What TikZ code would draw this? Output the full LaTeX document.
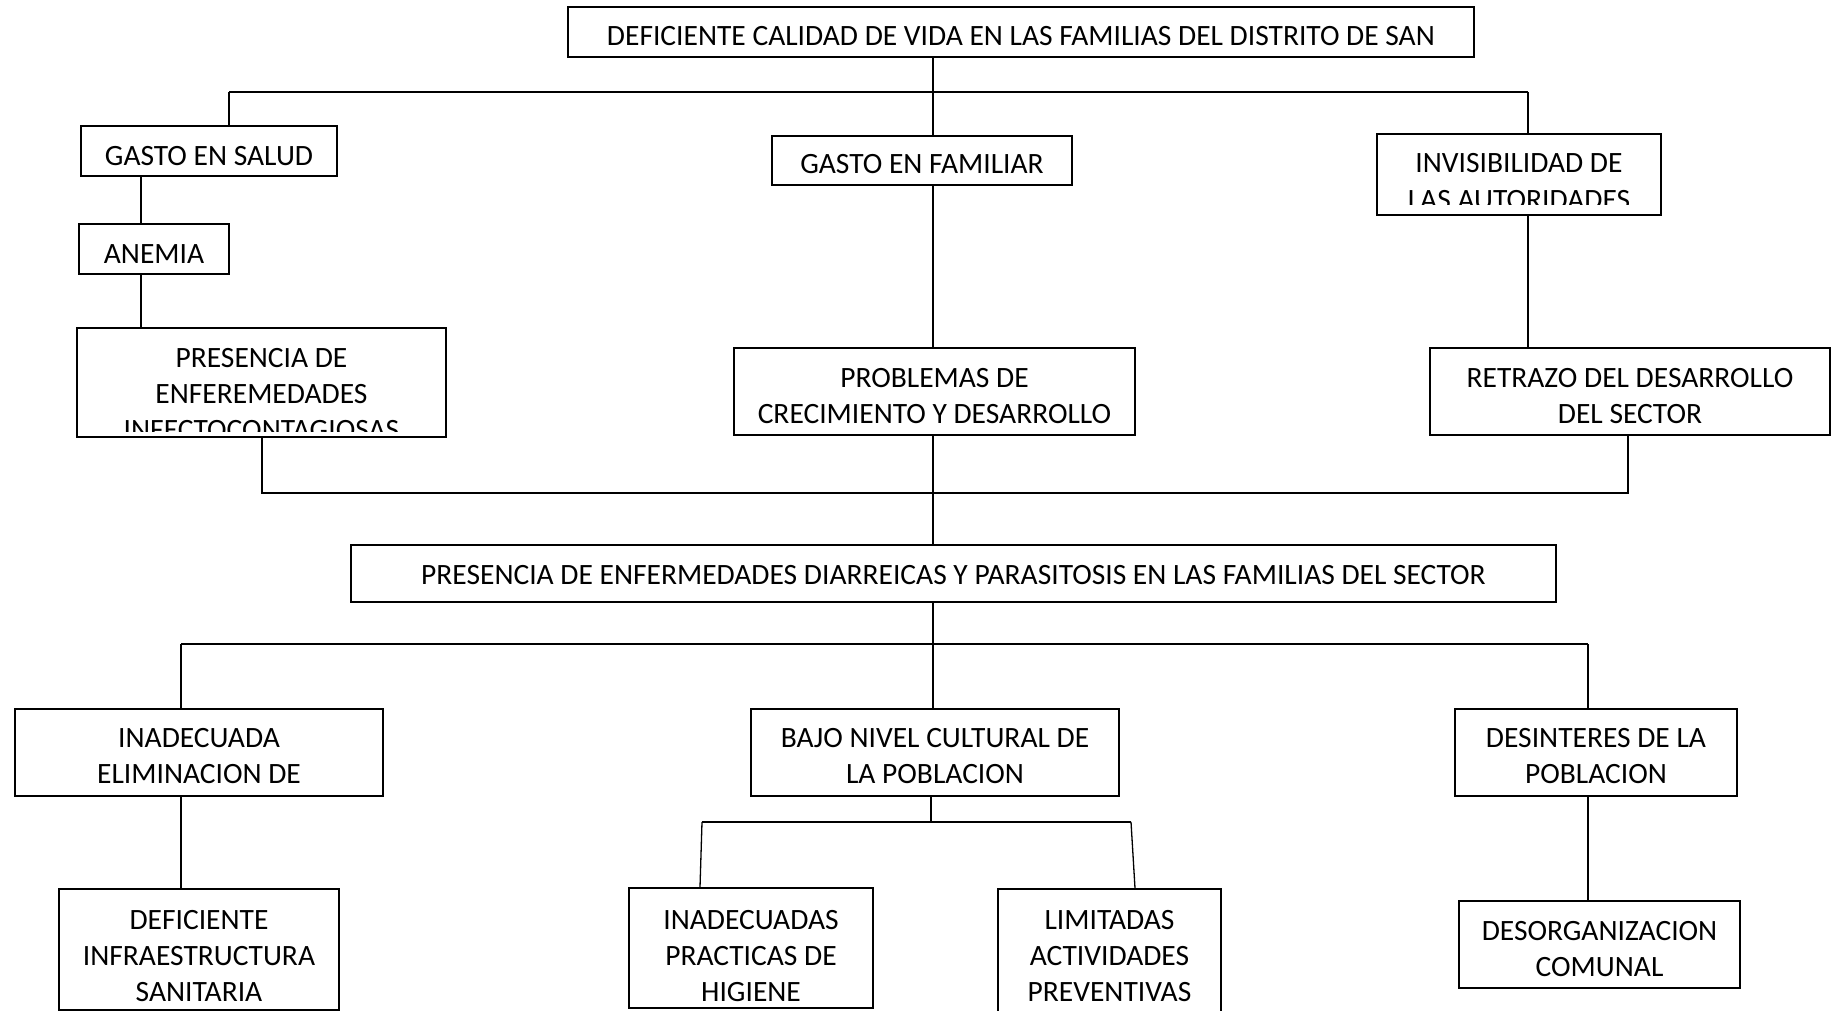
\documentclass[tikz,border=0pt]{standalone}
\usepackage{fontspec}
\setmainfont{Carlito}
\begin{document}
\begin{tikzpicture}[x=1pt,y=-1pt,
  box/.style={draw,line width=1.5pt,inner sep=0pt,rectangle},
  txt/.style={inner sep=0pt,align=center,anchor=base,font=\fontsize{29.5}{36}\selectfont},
  conn/.style={line width=1.3pt}]
\useasboundingbox (0,0) rectangle (1835,1011);
% boxes
\node[box,minimum width=906,minimum height=50] (top) at (1021,32) {};
\node[box,minimum width=256,minimum height=50] (salud) at (209,151) {};
\node[box,minimum width=150,minimum height=50] (anemia) at (154,249) {};
\node[box,minimum width=369,minimum height=109] (pres) at (261.5,382.5) {};
\node[box,minimum width=300,minimum height=49] (fam) at (922,160.5) {};
\node[box,minimum width=284,minimum height=81] (invis) at (1519,174.5) {};
\node[box,minimum width=401,minimum height=87] (prob) at (934.5,391.5) {};
\node[box,minimum width=400,minimum height=87] (retr) at (1630,391.5) {};
\node[box,minimum width=1205,minimum height=57] (diar) at (953.5,573.5) {};
\node[box,minimum width=368,minimum height=87] (inad) at (199,752.5) {};
\node[box,minimum width=368,minimum height=87] (bajo) at (935,752.5) {};
\node[box,minimum width=282,minimum height=87] (desi) at (1596,752.5) {};
\node[box,minimum width=280,minimum height=121] (defi) at (199,949.5) {};
\node[box,minimum width=244,minimum height=120] (inpr) at (751,948) {};
\node[box,minimum width=223,minimum height=131] (limi) at (1109.5,954.5) {};
\node[box,minimum width=281,minimum height=87] (deso) at (1599.5,944.5) {};
% texts (anchor base = baseline of the last line)
\node[txt] (top-t) at (1021,46) {DEFICIENTE CALIDAD DE VIDA EN LAS FAMILIAS DEL DISTRITO DE SAN};
\node[txt] (salud-t) at (209,166) {GASTO EN SALUD};
\node[txt] (anemia-t) at (154,263) {ANEMIA};
\begin{scope}
\clip (77,328) rectangle (446,431);
\node[txt] (pres-t) at (261.5,439) {PRESENCIA DE\\ENFEREMEDADES\\INFECTOCONTAGIOSAS};
\end{scope}
\node[txt] (fam-t) at (922,174) {GASTO EN FAMILIAR};
\begin{scope}
\clip (1377,134) rectangle (1661,204);
\node[txt] (invis-t) at (1519,209) {INVISIBILIDAD DE\\LAS AUTORIDADES};
\end{scope}
\node[txt] (prob-t) at (934.5,423) {PROBLEMAS DE\\CRECIMIENTO Y DESARROLLO};
\node[txt] (retr-t) at (1630,423) {RETRAZO DEL DESARROLLO\\DEL SECTOR};
\node[txt] (diar-t) at (953.5,584) {PRESENCIA DE ENFERMEDADES DIARREICAS Y PARASITOSIS EN LAS FAMILIAS DEL SECTOR};
\node[txt] (inad-t) at (199,783) {INADECUADA\\ELIMINACION DE};
\node[txt] (bajo-t) at (935,783) {BAJO NIVEL CULTURAL DE\\LA POBLACION};
\node[txt] (desi-t) at (1596,783) {DESINTERES DE LA\\POBLACION};
\node[txt] (defi-t) at (199,1001) {DEFICIENTE\\INFRAESTRUCTURA\\SANITARIA};
\node[txt] (inpr-t) at (751,1001) {INADECUADAS\\PRACTICAS DE\\HIGIENE};
\node[txt] (limi-t) at (1109.5,1001) {LIMITADAS\\ACTIVIDADES\\PREVENTIVAS};
\node[txt] (deso-t) at (1599.5,976) {DESORGANIZACION\\COMUNAL};
% junction coordinates
\coordinate (h1l) at (229,92);
\coordinate (h1r) at (1528,92);
\coordinate (h1m) at (933,92);
\coordinate (c1) at (141,0);
\coordinate (j2l) at (262,493);
\coordinate (j2r) at (1628,493);
\coordinate (h3l) at (181,644);
\coordinate (h3r) at (1588,644);
\coordinate (h4l) at (702,822);
\coordinate (h4r) at (1131,822);
\coordinate (h4m) at (931,822);
\coordinate (s1) at (700,0);
\coordinate (s2) at (1135,0);
% connectors
\draw[conn] (top.south -| h1m) -- (fam.north -| h1m);
\draw[conn] (h1l) -- (h1r);
\draw[conn] (h1l) -- (salud.north -| h1l);
\draw[conn] (h1r) -- (invis.north -| h1r);
\draw[conn] (salud.south -| c1) -- (anemia.north -| c1);
\draw[conn] (anemia.south -| c1) -- (pres.north -| c1);
\draw[conn] (fam.south -| h1m) -- (prob.north -| h1m);
\draw[conn] (invis.south -| h1r) -- (retr.north -| h1r);
\draw[conn] (pres.south -| j2l) -- (j2l) -- (j2r) -- (retr.south -| j2r);
\draw[conn] (prob.south -| h1m) -- (diar.north -| h1m);
\draw[conn] (diar.south -| h1m) -- (bajo.north -| h1m);
\draw[conn] (h3l) -- (h3r);
\draw[conn] (h3l) -- (inad.north -| h3l);
\draw[conn] (h3r) -- (desi.north -| h3r);
\draw[conn] (inad.south -| h3l) -- (defi.north -| h3l);
\draw[conn] (bajo.south -| h4m) -- (h4m);
\draw[conn] (h4l) -- (h4r);
\draw[conn] (h4l) -- (inpr.north -| s1);
\draw[conn] (h4r) -- (limi.north -| s2);
\draw[conn] (desi.south -| h3r) -- (deso.north -| h3r);
\end{tikzpicture}
\end{document}
